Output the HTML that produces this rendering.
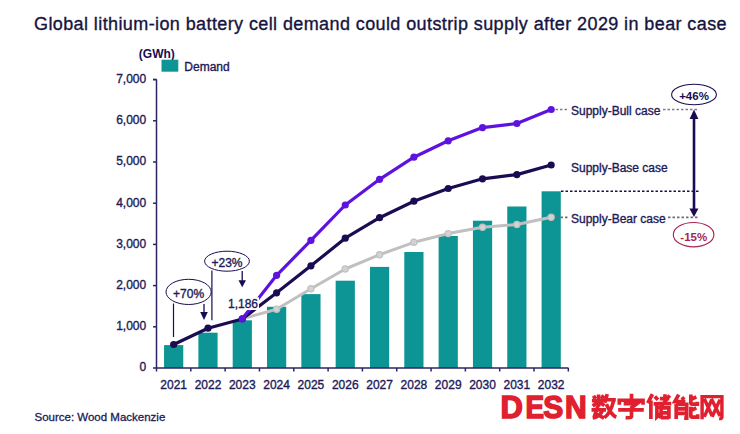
<!DOCTYPE html>
<html><head><meta charset="utf-8"><style>
html,body{margin:0;padding:0;background:#fff;}
body{width:740px;height:434px;overflow:hidden;position:relative;}
svg{position:absolute;left:0;top:0;}
text{font-family:"Liberation Sans",sans-serif;}
.t{font-size:12px;fill:#211a56;stroke:#211a56;stroke-width:0.35px;}
.tb{font-size:11.5px;font-weight:bold;fill:#1b0c52;}
.title{font-size:18px;letter-spacing:0.4px;fill:#16143f;stroke:#16143f;stroke-width:0.35px;}
.src{font-size:11.5px;fill:#211a56;stroke:#211a56;stroke-width:0.3px;}
.wm{font-size:31px;font-weight:bold;fill:#e0202e;stroke:#e0202e;stroke-width:1.5px;}
</style></head><body>
<svg width="740" height="434" viewBox="0 0 740 434">
<rect x="164.06" y="345.1" width="19.2" height="22.9" fill="#0d9494"/>
<rect x="198.38" y="332.7" width="19.2" height="35.3" fill="#0d9494"/>
<rect x="232.7" y="320.3" width="19.2" height="47.7" fill="#0d9494"/>
<rect x="267.02" y="306.8" width="19.2" height="61.2" fill="#0d9494"/>
<rect x="301.34" y="294.1" width="19.2" height="73.9" fill="#0d9494"/>
<rect x="335.66" y="280.7" width="19.2" height="87.3" fill="#0d9494"/>
<rect x="369.98" y="266.9" width="19.2" height="101.1" fill="#0d9494"/>
<rect x="404.3" y="252" width="19.2" height="116" fill="#0d9494"/>
<rect x="438.62" y="236" width="19.2" height="132" fill="#0d9494"/>
<rect x="472.94" y="220.7" width="19.2" height="147.3" fill="#0d9494"/>
<rect x="507.26" y="206.5" width="19.2" height="161.5" fill="#0d9494"/>
<rect x="541.58" y="191.3" width="19.2" height="176.7" fill="#0d9494"/>
<path d="M156.5 79.5 V368 M153 79.5 H156.5" stroke="#2b2660" stroke-width="1.5" fill="none"/>
<path d="M153 326.8 H156.5" stroke="#2b2660" stroke-width="1.5"/>
<path d="M153 285.6 H156.5" stroke="#2b2660" stroke-width="1.5"/>
<path d="M153 244.4 H156.5" stroke="#2b2660" stroke-width="1.5"/>
<path d="M153 203.2 H156.5" stroke="#2b2660" stroke-width="1.5"/>
<path d="M153 162 H156.5" stroke="#2b2660" stroke-width="1.5"/>
<path d="M153 120.8 H156.5" stroke="#2b2660" stroke-width="1.5"/>
<path d="M153 79.6 H156.5" stroke="#2b2660" stroke-width="1.5"/>
<path d="M153 368 H568.5" stroke="#2b2660" stroke-width="1.5"/>
<path d="M156.5 368 V371.5" stroke="#2b2660" stroke-width="1.5"/>
<path d="M190.82 368 V371.5" stroke="#2b2660" stroke-width="1.5"/>
<path d="M225.14 368 V371.5" stroke="#2b2660" stroke-width="1.5"/>
<path d="M259.46 368 V371.5" stroke="#2b2660" stroke-width="1.5"/>
<path d="M293.78 368 V371.5" stroke="#2b2660" stroke-width="1.5"/>
<path d="M328.1 368 V371.5" stroke="#2b2660" stroke-width="1.5"/>
<path d="M362.42 368 V371.5" stroke="#2b2660" stroke-width="1.5"/>
<path d="M396.74 368 V371.5" stroke="#2b2660" stroke-width="1.5"/>
<path d="M431.06 368 V371.5" stroke="#2b2660" stroke-width="1.5"/>
<path d="M465.38 368 V371.5" stroke="#2b2660" stroke-width="1.5"/>
<path d="M499.7 368 V371.5" stroke="#2b2660" stroke-width="1.5"/>
<path d="M534.02 368 V371.5" stroke="#2b2660" stroke-width="1.5"/>
<path d="M568.34 368 V371.5" stroke="#2b2660" stroke-width="1.5"/>
<text x="146.2" y="371.4" text-anchor="end" class="t">0</text>
<text x="146.2" y="330.2" text-anchor="end" class="t">1,000</text>
<text x="146.2" y="289" text-anchor="end" class="t">2,000</text>
<text x="146.2" y="247.8" text-anchor="end" class="t">3,000</text>
<text x="146.2" y="206.6" text-anchor="end" class="t">4,000</text>
<text x="146.2" y="165.4" text-anchor="end" class="t">5,000</text>
<text x="146.2" y="124.2" text-anchor="end" class="t">6,000</text>
<text x="146.2" y="83" text-anchor="end" class="t">7,000</text>
<text x="173.66" y="388.7" text-anchor="middle" class="t">2021</text>
<text x="207.98" y="388.7" text-anchor="middle" class="t">2022</text>
<text x="242.3" y="388.7" text-anchor="middle" class="t">2023</text>
<text x="276.62" y="388.7" text-anchor="middle" class="t">2024</text>
<text x="310.94" y="388.7" text-anchor="middle" class="t">2025</text>
<text x="345.26" y="388.7" text-anchor="middle" class="t">2026</text>
<text x="379.58" y="388.7" text-anchor="middle" class="t">2027</text>
<text x="413.9" y="388.7" text-anchor="middle" class="t">2028</text>
<text x="448.22" y="388.7" text-anchor="middle" class="t">2029</text>
<text x="482.54" y="388.7" text-anchor="middle" class="t">2030</text>
<text x="516.86" y="388.7" text-anchor="middle" class="t">2031</text>
<text x="551.18" y="388.7" text-anchor="middle" class="t">2032</text>
<path d="M242.3 318.8 L276.62 309.2 L310.94 288.8 L345.26 269 L379.58 254.7 L413.9 242.3 L448.22 233.6 L482.54 227.3 L516.86 224.5 L551.18 217.3" stroke="#c0c0c0" stroke-width="3" fill="none" stroke-linejoin="round"/>
<circle cx="242.3" cy="318.8" r="3.1" fill="#d3d3d3" stroke="#c0c0c0" stroke-width="1.2"/>
<circle cx="276.62" cy="309.2" r="3.1" fill="#d3d3d3" stroke="#c0c0c0" stroke-width="1.2"/>
<circle cx="310.94" cy="288.8" r="3.1" fill="#d3d3d3" stroke="#c0c0c0" stroke-width="1.2"/>
<circle cx="345.26" cy="269" r="3.1" fill="#d3d3d3" stroke="#c0c0c0" stroke-width="1.2"/>
<circle cx="379.58" cy="254.7" r="3.1" fill="#d3d3d3" stroke="#c0c0c0" stroke-width="1.2"/>
<circle cx="413.9" cy="242.3" r="3.1" fill="#d3d3d3" stroke="#c0c0c0" stroke-width="1.2"/>
<circle cx="448.22" cy="233.6" r="3.1" fill="#d3d3d3" stroke="#c0c0c0" stroke-width="1.2"/>
<circle cx="482.54" cy="227.3" r="3.1" fill="#d3d3d3" stroke="#c0c0c0" stroke-width="1.2"/>
<circle cx="516.86" cy="224.5" r="3.1" fill="#d3d3d3" stroke="#c0c0c0" stroke-width="1.2"/>
<circle cx="551.18" cy="217.3" r="3.1" fill="#d3d3d3" stroke="#c0c0c0" stroke-width="1.2"/>
<path d="M173.66 344.5 L207.98 328.2 L242.3 319 L276.62 292.8 L310.94 265.8 L345.26 238.2 L379.58 217.7 L413.9 201.2 L448.22 188.5 L482.54 178.8 L516.86 174.6 L551.18 165" stroke="#1b0c52" stroke-width="3.2" fill="none" stroke-linejoin="round"/>
<path d="M242.3 318.8 L276.62 275.3 L310.94 240.4 L345.26 205 L379.58 179.3 L413.9 157.2 L448.22 140.8 L482.54 127.6 L516.86 123.5 L551.18 109.5" stroke="#5e12de" stroke-width="3.2" fill="none" stroke-linejoin="round"/>
<circle cx="173.66" cy="344.5" r="3.6" fill="#1b0c52"/>
<circle cx="207.98" cy="328.2" r="3.6" fill="#1b0c52"/>
<circle cx="242.3" cy="319" r="3.6" fill="#1b0c52"/>
<circle cx="276.62" cy="292.8" r="3.6" fill="#1b0c52"/>
<circle cx="310.94" cy="265.8" r="3.6" fill="#1b0c52"/>
<circle cx="345.26" cy="238.2" r="3.6" fill="#1b0c52"/>
<circle cx="379.58" cy="217.7" r="3.6" fill="#1b0c52"/>
<circle cx="413.9" cy="201.2" r="3.6" fill="#1b0c52"/>
<circle cx="448.22" cy="188.5" r="3.6" fill="#1b0c52"/>
<circle cx="482.54" cy="178.8" r="3.6" fill="#1b0c52"/>
<circle cx="516.86" cy="174.6" r="3.6" fill="#1b0c52"/>
<circle cx="551.18" cy="165" r="3.6" fill="#1b0c52"/>
<circle cx="242.3" cy="318.8" r="3.6" fill="#5e12de"/>
<circle cx="276.62" cy="275.3" r="3.6" fill="#5e12de"/>
<circle cx="310.94" cy="240.4" r="3.6" fill="#5e12de"/>
<circle cx="345.26" cy="205" r="3.6" fill="#5e12de"/>
<circle cx="379.58" cy="179.3" r="3.6" fill="#5e12de"/>
<circle cx="413.9" cy="157.2" r="3.6" fill="#5e12de"/>
<circle cx="448.22" cy="140.8" r="3.6" fill="#5e12de"/>
<circle cx="482.54" cy="127.6" r="3.6" fill="#5e12de"/>
<circle cx="516.86" cy="123.5" r="3.6" fill="#5e12de"/>
<circle cx="551.18" cy="109.5" r="3.6" fill="#5e12de"/>
<rect x="226" y="297.3" width="33" height="12.7" fill="#fff"/>
<text x="228" y="307.7" class="t">1,186</text>
<path d="M173.5 303.5 V337" stroke="#1b0c52" stroke-width="1.2" fill="none"/>
<path d="M204 304 V313" stroke="#1b0c52" stroke-width="1.3" fill="none"/>
<path d="M200.2 312 L207.8 312 L204 320 Z" fill="#1b0c52"/>
<path d="M211.9 270.5 V320.3" stroke="#1b0c52" stroke-width="1.2" fill="none"/>
<ellipse cx="188.6" cy="291.9" rx="22.6" ry="12.6" fill="#fff" stroke="#1b0c52" stroke-width="1"/>
<text x="188.6" y="297.8" text-anchor="middle" class="t">+70%</text>
<path d="M242.2 271 V281" stroke="#1b0c52" stroke-width="1.3" fill="none"/>
<path d="M238.5 280.3 L246 280.3 L242.2 287.3 Z" fill="#1b0c52"/>
<ellipse cx="227" cy="261.2" rx="22.4" ry="10" fill="#fff" stroke="#1b0c52" stroke-width="1"/>
<text x="227" y="267" text-anchor="middle" class="t">+23%</text>
<path d="M555.5 109.5 H568.5 M663 109.5 H698.5" stroke="#7c7c8c" stroke-width="1.6" stroke-dasharray="2.5 2" fill="none"/>
<text x="571" y="115.2" class="t">Supply-Bull case</text>
<text x="571" y="171.6" class="t">Supply-Base case</text>
<path d="M561 191.3 H698.5" stroke="#1b0c52" stroke-width="1.6" stroke-dasharray="2.5 2" fill="none"/>
<path d="M556 217.4 H568.5 M668 217.4 H698.5" stroke="#6c6c80" stroke-width="1.6" stroke-dasharray="2.5 2" fill="none"/>
<text x="571" y="223" class="t">Supply-Bear case</text>
<path d="M694 118 V209" stroke="#1b0c52" stroke-width="2.6" fill="none"/>
<path d="M689.6 119 L698.4 119 L694 109.5 Z" fill="#1b0c52"/>
<path d="M689.4 208.5 L698.4 208.5 L694 217 Z" fill="#1b0c52"/>
<ellipse cx="694" cy="94.5" rx="22.4" ry="10.3" fill="#fff" stroke="#1b0c52" stroke-width="1.1"/>
<text x="694" y="99.6" text-anchor="middle" class="tb">+46%</text>
<ellipse cx="693.6" cy="234.7" rx="20.3" ry="12.2" fill="#fff" stroke="#a8244f" stroke-width="1.1"/>
<text x="693.8" y="241" text-anchor="middle" class="tb" style="fill:#a8244f">-15%</text>
<text x="138.8" y="57.7" class="tb" style="font-size:12px">(GWh)</text>
<rect x="161.5" y="59.7" width="16.8" height="12" fill="#0d9494"/>
<text x="184.3" y="70.6" class="t">Demand</text>
<text x="34" y="30" class="title">Global lithium-ion battery cell demand could outstrip supply after 2029 in bear case</text>
<text x="34.5" y="420.5" class="src">Source: Wood Mackenzie</text>
<text transform="translate(500.6,418.4) scale(1.0,1.0)" x="0" y="0" class="wm">D</text>
<text transform="translate(525.6,418.4) scale(0.9,1.0)" x="0" y="0" class="wm">E</text>
<text transform="translate(543.2,418.4) scale(0.97,1.0)" x="0" y="0" class="wm">S</text>
<text transform="translate(565.0,418.4) scale(0.97,1.0)" x="0" y="0" class="wm">N</text>
<g transform="translate(588,391) scale(0.07837)"><path d="M135 45 V200 M50 122 H222 M70 60 L95 100 M200 55 L172 100 M130 140 L60 190 M140 140 L210 185 M45 240 H230 M125 195 L80 330 M185 250 Q150 330 60 345 M80 280 L205 345 M245 40 L215 150 M230 112 H355 M325 130 Q290 280 210 340 M235 170 Q290 300 360 335" stroke="#e0202e" stroke-width="47" fill="none" stroke-linecap="butt" stroke-linejoin="miter"/></g>
<g transform="translate(588,391) scale(0.07837)"><path d="M555 35 V100 M400 175 V118 H702 V175 M455 162 H625 L545 220 M385 242 H712 M555 215 V325 Q555 345 480 340" stroke="#e0202e" stroke-width="47" fill="none" stroke-linecap="butt" stroke-linejoin="miter"/></g>
<g transform="translate(645,391) scale(0.07837)"><path d="M95 40 L35 155 M75 120 V358 M125 70 L165 112 M110 165 H152 V330 L195 290 M255 40 V165 M190 97 H310 M170 162 H335 M315 55 L180 230 M205 205 V355 M205 215 H305 V355 M205 278 H305 M205 340 H305" stroke="#e0202e" stroke-width="47" fill="none" stroke-linecap="butt" stroke-linejoin="miter"/></g>
<g transform="translate(645,391) scale(0.07837)"><path d="M430 45 L380 135 H515 M470 80 L500 112 M398 165 V358 M398 170 H532 V345 L500 345 M398 228 H532 M398 285 H532 M585 45 V150 Q585 168 605 168 H668 V138 M655 75 L590 108 M585 200 V315 Q585 333 605 333 H672 V298 M655 215 L590 248" stroke="#e0202e" stroke-width="47" fill="none" stroke-linecap="butt" stroke-linejoin="miter"/></g>
<g transform="translate(680,391) scale(0.07837)"><path d="M282 360 V72 H535 V335 Q535 355 500 350 M310 100 L410 320 M405 110 L310 330 M400 100 L510 320 M510 110 L410 330" stroke="#e0202e" stroke-width="44" fill="none" stroke-linecap="butt" stroke-linejoin="miter"/></g>
</svg>
</body></html>
